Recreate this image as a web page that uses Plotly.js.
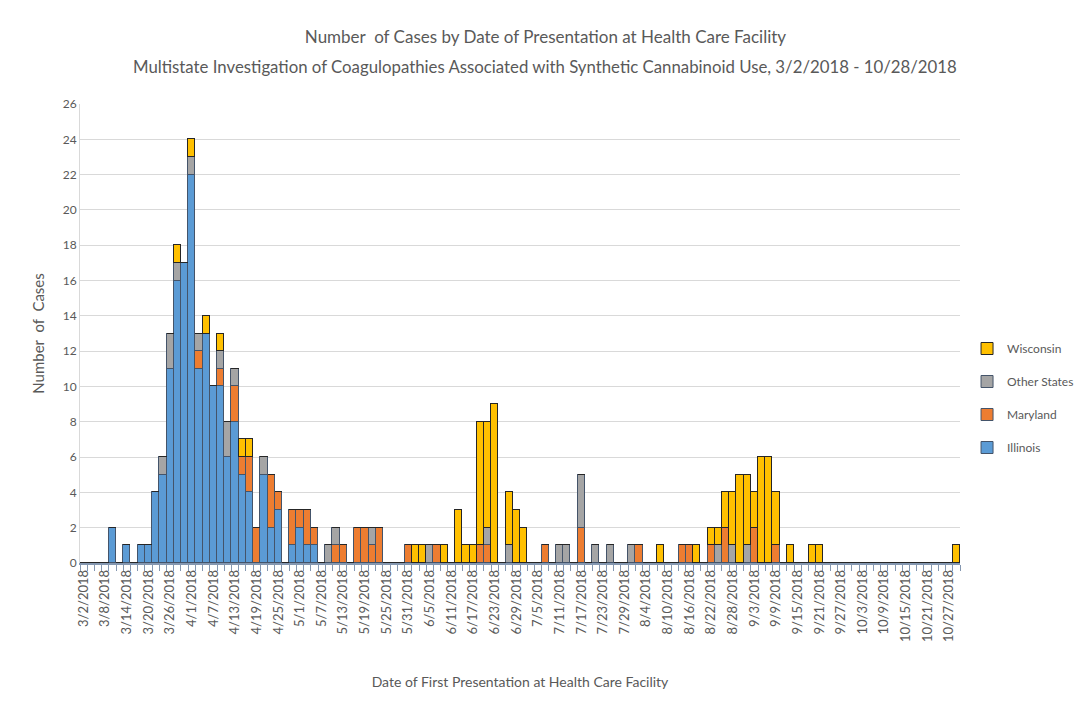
<!DOCTYPE html>
<html>
<head>
<meta charset="utf-8">
<script src="https://cdn.plot.ly/plotly-3.0.1.min.js"></script>
<style>
  html, body { margin: 0; padding: 0; background: #ffffff; }
  #chart { width: 1078px; height: 712px; }
</style>
</head>
<body>
<div id="chart"></div>
<script>
// Category labels (2-day bins)
const dates = [
  "3/2/2018","3/4/2018","3/6/2018","3/8/2018","3/10/2018","3/12/2018","3/14/2018","3/16/2018","3/18/2018","3/20/2018",
  "3/22/2018","3/24/2018","3/26/2018","3/28/2018","3/30/2018","4/1/2018","4/3/2018","4/5/2018","4/7/2018","4/9/2018",
  "4/11/2018","4/13/2018","4/15/2018","4/17/2018","4/19/2018","4/21/2018","4/23/2018","4/25/2018","4/27/2018","4/29/2018",
  "5/1/2018","5/3/2018","5/5/2018","5/7/2018","5/9/2018","5/11/2018","5/13/2018","5/15/2018","5/17/2018","5/19/2018",
  "5/21/2018","5/23/2018","5/25/2018","5/27/2018","5/29/2018","5/31/2018","6/1/2018","6/3/2018","6/5/2018","6/7/2018",
  "6/9/2018","6/11/2018","6/13/2018","6/15/2018","6/17/2018","6/19/2018","6/21/2018","6/23/2018","6/25/2018","6/27/2018",
  "6/29/2018","7/1/2018","7/3/2018","7/5/2018","7/7/2018","7/9/2018","7/11/2018","7/13/2018","7/15/2018","7/17/2018",
  "7/19/2018","7/21/2018","7/23/2018","7/25/2018","7/27/2018","7/29/2018","7/31/2018","8/2/2018","8/4/2018","8/6/2018",
  "8/8/2018","8/10/2018","8/12/2018","8/14/2018","8/16/2018","8/18/2018","8/20/2018","8/22/2018","8/24/2018","8/26/2018",
  "8/28/2018","8/30/2018","9/1/2018","9/3/2018","9/5/2018","9/7/2018","9/9/2018","9/11/2018","9/13/2018","9/15/2018",
  "9/17/2018","9/19/2018","9/21/2018","9/23/2018","9/25/2018","9/27/2018","9/29/2018","10/1/2018","10/3/2018","10/5/2018",
  "10/7/2018","10/9/2018","10/11/2018","10/13/2018","10/15/2018","10/17/2018","10/19/2018","10/21/2018","10/23/2018","10/25/2018",
  "10/27/2018","10/29/2018"
];

const illinois = [
  0,0,0,0,2,0,1,0,1,1,
  4,5,11,16,17,22,11,13,10,10,
  6,8,5,4,0,5,2,3,0,1,
  2,1,1,0,0,0,0,0,0,0,
  0,0,0,0,0,0,0,0,0,0,
  0,0,0,0,0,0,0,0,0,0,
  0,0,0,0,0,0,0,0,0,0,
  0,0,0,0,0,0,0,0,0,0,
  0,0,0,0,0,0,0,0,0,0,
  0,0,0,0,0,0,0,0,0,0,
  0,0,0,0,0,0,0,0,0,0,
  0,0,0,0,0,0,0,0,0,0,
  0,0
];

const maryland = [
  0,0,0,0,0,0,0,0,0,0,
  0,0,0,0,0,0,1,0,0,1,
  0,2,1,2,2,0,3,1,0,2,
  1,2,1,0,0,1,1,0,2,2,
  1,2,0,0,0,1,0,0,0,1,
  0,0,0,0,0,1,1,0,0,0,
  0,0,0,0,1,0,0,0,0,2,
  0,0,0,0,0,0,0,1,0,0,
  0,0,0,1,1,0,0,1,0,2,
  0,0,0,2,0,0,1,0,0,0,
  0,0,0,0,0,0,0,0,0,0,
  0,0,0,0,0,0,0,0,0,0,
  0,0
];

const otherStates = [
  0,0,0,0,0,0,0,0,0,0,
  0,1,2,1,0,1,1,0,0,1,
  2,1,0,0,0,1,0,0,0,0,
  0,0,0,0,1,1,0,0,0,0,
  1,0,0,0,0,0,0,0,1,0,
  0,0,0,0,0,0,1,0,0,1,
  0,0,0,0,0,0,1,1,0,3,
  0,1,0,1,0,0,1,0,0,0,
  0,0,0,0,0,0,0,0,1,0,
  1,0,1,0,0,0,0,0,0,0,
  0,0,0,0,0,0,0,0,0,0,
  0,0,0,0,0,0,0,0,0,0,
  0,0
];

const wisconsin = [
  0,0,0,0,0,0,0,0,0,0,
  0,0,0,1,0,1,0,1,0,1,
  0,0,1,1,0,0,0,0,0,0,
  0,0,0,0,0,0,0,0,0,0,
  0,0,0,0,0,0,1,1,0,0,
  1,0,3,1,1,7,6,9,0,3,
  3,2,0,0,0,0,0,0,0,0,
  0,0,0,0,0,0,0,0,0,0,
  1,0,0,0,0,1,0,1,1,2,
  3,5,4,2,6,6,3,0,1,0,
  0,1,1,0,0,0,0,0,0,0,
  0,0,0,0,0,0,0,0,0,0,
  0,1
];

const seriesNames = ["Illinois", "Maryland", "Other States", "Wisconsin"];
const seriesColors = ["#5B9BD5", "#ED7D31", "#A5A5A5", "#FFC000"];
const seriesEdges = ["#44546A", "#44546A", "#44546A", "#262626"];
const seriesValues = [illinois, maryland, otherStates, wisconsin];

const tickText = dates.map((d, i) => (i % 3 === 0 ? d : ""));

const textColor = "#595959";
const fontFam = "Lato, 'Open Sans', 'DejaVu Sans', sans-serif";

const traces = seriesNames.map((name, k) => ({
  type: "bar",
  name: name,
  x: dates,
  y: seriesValues[k],
  legendgroup: name,
  legendrank: 100 * (seriesNames.length - k),
  marker: { color: seriesColors[k], line: { color: seriesEdges[k], width: 1 } },
  hovertemplate: "%{x}: %{y}<extra>" + name + "</extra>"
}));

const layout = {
  width: 1078,
  height: 712,
  paper_bgcolor: "#ffffff",
  plot_bgcolor: "#ffffff",
  barmode: "stack",
  bargap: 0,
  margin: { l: 80, r: 118, t: 104, b: 149, autoexpand: false },
  font: { family: fontFam, color: textColor, size: 12 },
  title: {
    text: "Number  of Cases by Date of Presentation at Health Care Facility",
    font: { family: fontFam, size: 17, color: textColor },
    xref: "container", x: 0.506, xanchor: "center",
    yref: "container", y: 1 - 37 / 712, yanchor: "middle"
  },
  annotations: [{
    text: "Multistate Investigation of Coagulopathies Associated with Synthetic Cannabinoid Use, 3/2/2018 - 10/28/2018",
    xref: "paper", yref: "paper",
    x: (545 - 80) / 880, y: (563 - 67) / 459,
    xanchor: "center", yanchor: "middle",
    showarrow: false,
    font: { family: fontFam, size: 16.8, color: textColor }
  }],
  xaxis: {
    type: "category",
    tickmode: "array",
    tickvals: dates,
    ticktext: tickText,
    tickson: "boundaries",
    ticks: "outside",
    ticklen: 6,
    tickcolor: "#8497B0",
    tickwidth: 1,
    tickangle: -90,
    tickfont: { family: fontFam, size: 13, color: textColor },
    showgrid: false,
    showline: true,
    linecolor: "#8497B0",
    linewidth: 1.5,
    range: [-0.5, dates.length - 0.5],
    automargin: false,
    title: {
      text: "Date of First Presentation at Health Care Facility",
      font: { family: fontFam, size: 14, color: textColor },
      standoff: 36
    }
  },
  yaxis: {
    range: [0, 26],
    dtick: 2,
    tick0: 0,
    showgrid: true,
    gridcolor: "#D9D9D9",
    gridwidth: 1,
    zeroline: false,
    showline: true,
    linecolor: "#D9D9D9",
    ticks: "",
    tickfont: { family: fontFam, size: 12, color: textColor },
    automargin: false,
    title: {
      text: "Number  of  Cases",
      font: { family: fontFam, size: 15, color: textColor },
      standoff: 14
    }
  },
  legend: {
    x: 1.008, xanchor: "left",
    y: (563 - 398) / 459, yanchor: "middle",
    traceorder: "grouped",
    tracegroupgap: 14,
    font: { family: fontFam, size: 12, color: textColor },
    bgcolor: "rgba(0,0,0,0)"
  },
  showlegend: true
};

Plotly.newPlot("chart", traces, layout, { displayModeBar: false, responsive: false });
</script>
</body>
</html>
